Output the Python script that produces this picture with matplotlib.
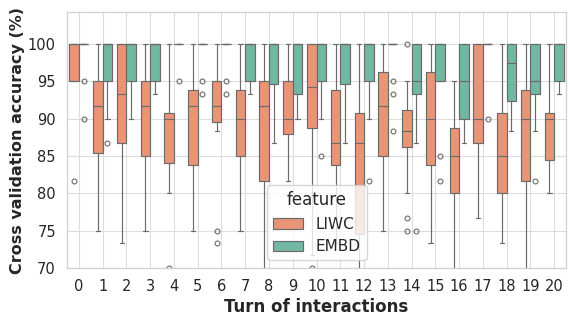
import matplotlib
matplotlib.use("Agg")
import matplotlib.pyplot as plt
from matplotlib.patches import Patch
import seaborn as sns

sns.set_theme(style="whitegrid")
plt.rcParams['font.family'] = ['DejaVu Sans']

turns = list(range(21))
features = ["LIWC", "EMBD"]

# LIWC box statistics
liwc_q1 = [95, 85.4, 86.7, 85, 84.1, 83.8, 89.6, 85, 81.7, 87.9, 88.8, 83.8, 74.6, 85, 86.2, 83.8, 80, 86.7, 80, 81.7, 84.5]
liwc_med = [100, 91.7, 93.3, 91.7, 90, 91.7, 91.7, 90, 91.7, 90, 94.2, 86.7, 86.7, 91.7, 88.3, 90, 85, 90, 85, 90, 90]
liwc_q3 = [100, 95, 100, 95, 90.8, 93.8, 95, 93.8, 95, 95, 100, 93.8, 90.8, 96.2, 91.2, 96.2, 88.8, 100, 90.8, 93.8, 90.8]
liwc_lo = [95, 75, 73.3, 75, 80, 75, 88.3, 75, 65, 81.7, 71.7, 73.3, 65, 75, 80, 73.3, 65, 76.7, 73.3, 65, 80]
liwc_hi = [100, 100, 100, 100, 100, 100, 100, 100, 100, 100, 100, 100, 100, 100, 95, 100, 95, 100, 100, 100, 100]
liwc_fliers = [[81.7], [], [], [], [70.0], [], [75, 73.3], [], [], [], [70.0], [], [], [], [100, 76.7, 75], [], [], [], [], [], []]

# EMBD box statistics
embd_q1 = [100, 95, 95, 95, 100, 100, 100, 95, 94.6, 93.3, 95, 94.6, 95, 100, 93.3, 95, 90, 100, 92.4, 93.3, 95]
embd_med = [100, 100, 100, 100, 100, 100, 100, 100, 100, 100, 100, 100, 100, 100, 95, 100, 95, 100, 97.5, 95, 100]
embd_q3 = [100] * 21
embd_lo = [100, 90, 90, 93.3, 100, 100, 100, 93.3, 86.7, 90, 90, 86.7, 90, 100, 86.7, 95, 86.7, 100, 88.3, 88.3, 93.3]
embd_hi = [100] * 21
embd_fliers = [[95, 90], [86.7], [], [], [95], [95, 93.3], [95, 93.3], [], [], [], [85], [], [81.7], [95, 93.3, 88.3], [75], [85, 81.7], [], [90], [], [81.7], []]

colors = {"LIWC": "#e99575", "EMBD": "#71b7a1"}
line_gray = "#6a6a6a"
lw = 0.85

fig = plt.figure(figsize=(5.70, 3.22), dpi=100)
ax = fig.add_axes([67/570, 1 - 268/322, (566 - 67)/570, (268 - 12)/322])

def stats(q1, med, q3, lo, hi, fl):
    return [dict(q1=a, med=b, q3=c, whislo=d, whishi=e, fliers=f)
            for a, b, c, d, e, f in zip(q1, med, q3, lo, hi, fl)]

series = [
    ("LIWC", -0.2, stats(liwc_q1, liwc_med, liwc_q3, liwc_lo, liwc_hi, liwc_fliers)),
    ("EMBD", 0.2, stats(embd_q1, embd_med, embd_q3, embd_lo, embd_hi, embd_fliers)),
]
for name, off, st in series:
    ax.bxp(st, positions=[t + off for t in turns], widths=0.4, capwidths=0.18,
           patch_artist=True, manage_ticks=False,
           boxprops=dict(facecolor=colors[name], edgecolor=line_gray, linewidth=lw),
           medianprops=dict(color=line_gray, linewidth=lw),
           whiskerprops=dict(color=line_gray, linewidth=lw),
           capprops=dict(color=line_gray, linewidth=lw),
           flierprops=dict(marker="o", markerfacecolor="none", markeredgecolor=line_gray,
                           markersize=3.5, markeredgewidth=0.8))

ax.set_xlim(-0.5, 20.5)
ax.set_ylim(70, 104.3)
ax.grid(True, color="#dddddd", linewidth=0.8)
for s in ax.spines.values():
    s.set_color("#d0d0d0")
    s.set_linewidth(0.9)
ax.set_xticks(turns)
ax.set_xticklabels([str(t) for t in turns], fontsize=10.5)
ax.set_yticks([70, 75, 80, 85, 90, 95, 100])
ax.set_yticklabels(["70", "75", "80", "85", "90", "95", "100"], fontsize=10.5)
ax.tick_params(axis="both", pad=2, colors="#262626")
ax.set_xlabel("Turn of interactions", fontsize=12, fontweight="bold", labelpad=3)
ax.set_ylabel("Cross validation accuracy (%)", fontsize=11.5, fontweight="bold", labelpad=2)

handles = [Patch(facecolor=colors[f], edgecolor=line_gray, linewidth=lw, label=f) for f in features]
leg = ax.legend(handles=handles, title="feature", loc="lower center", fontsize=11,
                title_fontsize=12, framealpha=0.8)

fig.savefig("out.png", dpi=100)
